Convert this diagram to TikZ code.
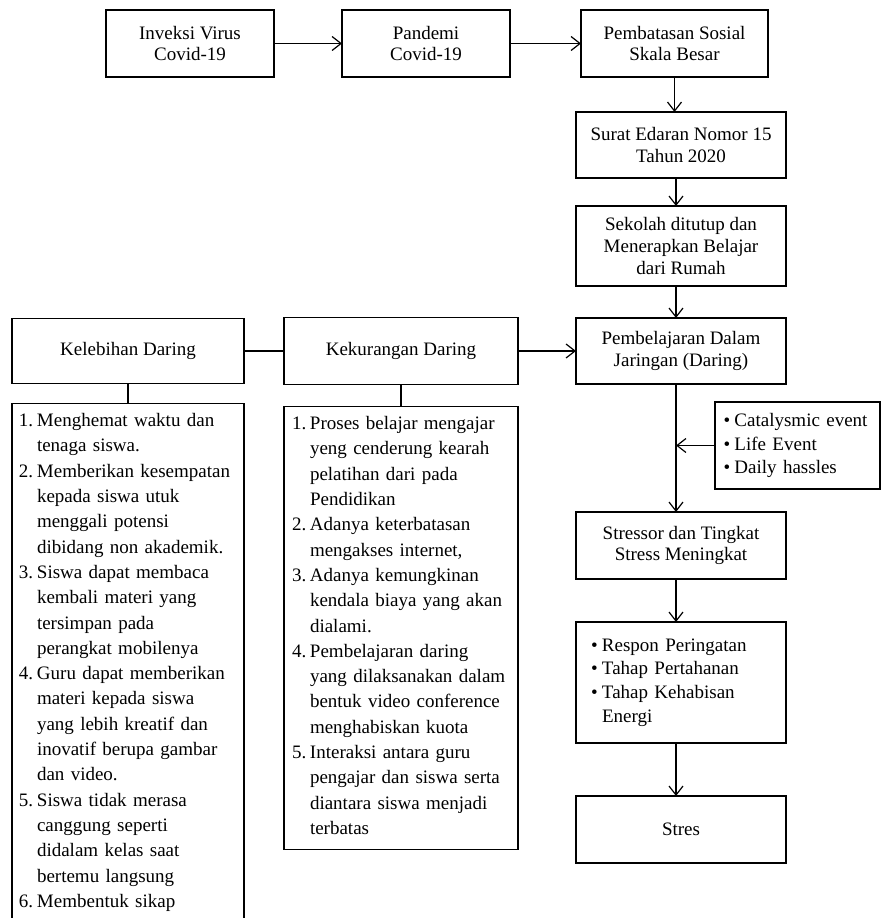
\documentclass[tikz,border=0pt]{standalone}
\usepackage{fontspec}
\setmainfont{Liberation Serif}
\usepackage{tikz}
\usetikzlibrary{arrows.meta, positioning}

% butir bernomor dan butir berpoin (menggantung)
\newcommand{\butir}[2]{\hangindent=18pt\hangafter=1\noindent\makebox[18pt][l]{#1.}#2\par}
\newcommand{\titik}[1]{\hangindent=11pt\hangafter=1\noindent\makebox[11pt][l]{\textbullet}#1\par}

\begin{document}
\begin{tikzpicture}[
	% Gaya gambar
	x=1pt, y=-1pt,
	>={Straight Barb[length=9pt,width=14pt]},
	kotak/.style={draw, rectangle, line width=1.2pt, inner sep=0pt, outer sep=0pt, minimum width=210pt, minimum height=66pt, align=center, font=\fontsize{19}{21.7}\selectfont, text=black},
	daftar/.style={draw, rectangle, line width=1.2pt, inner xsep=8pt, inner ysep=10pt, outer sep=0pt, text width=218pt, align=left, font=\fontsize{19}{25.3}\selectfont, text=black},
	flow/.style={->, line width=1.2pt},
	link/.style={line width=1.2pt}
]
\useasboundingbox (0,0) rectangle (881,918);
% Alur atas
\node[kotak, minimum width=168pt, minimum height=67pt] (inveksi) at (190,43.5) {Inveksi Virus\\Covid-19};
\node[kotak, minimum width=168pt, minimum height=67pt, right=68pt of inveksi] (pandemi) {Pandemi\\Covid-19};
\node[kotak, minimum width=187pt, minimum height=67pt, right=71pt of pandemi] (pembatasan) {Pembatasan Sosial\\Skala Besar};
% Alur kanan
\node[kotak, below=35pt of pembatasan, xshift=6.5pt] (surat) {Surat Edaran Nomor 15\\Tahun 2020};
\node[kotak, minimum height=80pt, below=28pt of surat] (sekolah) {Sekolah ditutup dan\\Menerapkan Belajar\\dari Rumah};
\node[kotak, below=32pt of sekolah] (pembelajaran) {Pembelajaran Dalam\\Jaringan (Daring)};
\node[kotak, minimum height=67pt, below=128pt of pembelajaran] (stressor) {Stressor dan Tingkat\\Stress Meningkat};
\node[kotak, minimum height=121pt, text width=180pt, align=left, below=43pt of stressor, font=\fontsize{19}{23.7}\selectfont] (respon) {\titik{Respon Peringatan}\titik{Tahap Pertahanan}\titik{Tahap Kehabisan\newline Energi}};
\node[kotak, minimum height=67pt, below=53pt of respon] (stres) {Stres};
\node[kotak, minimum width=165pt, minimum height=87pt, text width=148pt, align=left, font=\fontsize{19}{23.5}\selectfont] (pemicu) at (797.5,445.5) {\titik{Catalysmic event}\titik{Life Event}\titik{Daily hassles}};
% Kelebihan dan kekurangan
\node[kotak, minimum width=234pt, minimum height=67pt, left=58pt of pembelajaran] (kekurangan) {Kekurangan Daring};
\node[kotak, minimum width=232pt, minimum height=65pt, left=40pt of kekurangan] (kelebihan) {Kelebihan Daring};
\node[daftar, inner xsep=7pt, below=20pt of kelebihan] (lebihlist) {%
	\butir{1}{Menghemat waktu dan\newline tenaga siswa.}%
	\butir{2}{Memberikan kesempatan\newline kepada siswa utuk\newline menggali potensi\newline dibidang non akademik.}%
	\butir{3}{Siswa dapat membaca\newline kembali materi yang\newline tersimpan pada\newline perangkat mobilenya}%
	\butir{4}{Guru dapat memberikan\newline materi kepada siswa\newline yang lebih kreatif dan\newline inovatif berupa gambar\newline dan video.}%
	\butir{5}{Siswa tidak merasa\newline canggung seperti\newline didalam kelas saat\newline bertemu langsung}%
	\butir{6}{Membentuk sikap\rule[-40pt]{0pt}{0pt}}};
\node[daftar, below=22pt of kekurangan] (kuranglist) {%
	\butir{1}{Proses belajar mengajar\newline yeng cenderung kearah\newline pelatihan dari pada\newline Pendidikan}%
	\butir{2}{Adanya keterbatasan\newline mengakses internet,}%
	\butir{3}{Adanya kemungkinan\newline kendala biaya yang akan\newline dialami.}%
	\butir{4}{Pembelajaran daring\newline yang dilaksanakan dalam\newline bentuk video conference\newline menghabiskan kuota}%
	\butir{5}{Interaksi antara guru\newline pengajar dan siswa serta\newline diantara siswa menjadi\newline terbatas\rule[-5pt]{0pt}{0pt}}};
% Panah
\coordinate (jalur) at ([xshift=-5pt]pembelajaran.south);
\draw[flow] (inveksi) -- (pandemi);
\draw[flow] (pandemi) -- (pembatasan);
\draw[flow] (pembatasan.south) -- (pembatasan.south |- surat.north);
\draw[flow] ([xshift=-5pt]surat.south) -- ([xshift=-5pt]sekolah.north);
\draw[flow] ([xshift=-5pt]sekolah.south) -- ([xshift=-5pt]pembelajaran.north);
\draw[link] (kelebihan) -- (kekurangan);
\draw[flow] (kekurangan) -- (pembelajaran);
\draw[link] (kelebihan) -- (lebihlist);
\draw[link] (kekurangan) -- (kuranglist);
\draw[flow] (jalur) -- (jalur |- stressor.north);
\draw[flow] (pemicu.west) -- (pemicu.west -| jalur);
\draw[flow] ([xshift=-5pt]stressor.south) -- ([xshift=-5pt]stressor.south |- respon.north);
\draw[flow] ([xshift=-5pt]respon.south) -- ([xshift=-5pt]respon.south |- stres.north);
\end{tikzpicture}
\end{document}
